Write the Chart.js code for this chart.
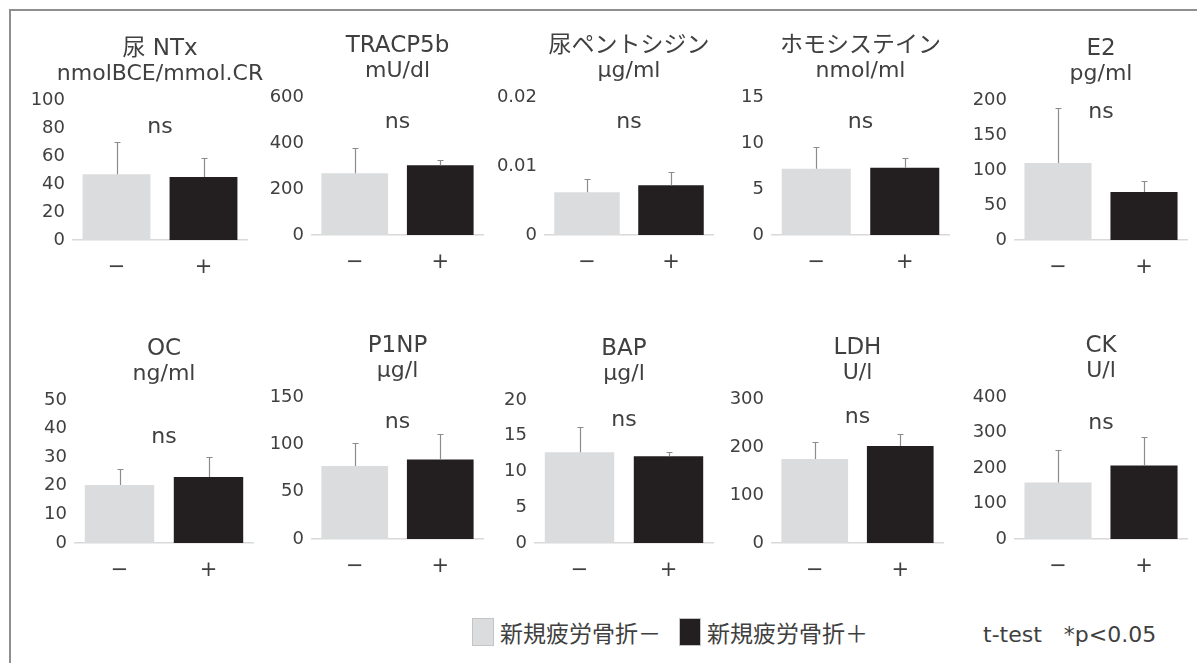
<!DOCTYPE html>
<html lang="ja">
<head>
<meta charset="utf-8">
<title>新規疲労骨折の有無による骨代謝マーカー</title>
<script src="https://cdn.jsdelivr.net/npm/chart.js@4.4.1/dist/chart.umd.min.js"></script>
<style>
  html, body { margin: 0; padding: 0; background: #fff; }
  body { width: 1197px; height: 663px; position: relative; overflow: hidden;
         font-family: 'DejaVu Sans', 'Noto Sans CJK JP', sans-serif; color: #404040; }
  #frame { position: absolute; left: 9px; top: 9px; width: 1300px; height: 800px;
           border-top: 2px solid #8f8f8f; border-left: 2px solid #8f8f8f; }
  canvas { position: absolute; }
  #legend { position: absolute; left: 472px; top: 617px; height: 30px;
            display: flex; align-items: center; white-space: nowrap; }
  #legend .item { display: flex; align-items: center; margin-right: 18px; }
  #legend .box { width: 22px; height: 28px; box-sizing: border-box; border: 1px solid #c4c4c4; margin-right: 6px; }
  #legend .label { font-family: 'Noto Sans CJK JP', sans-serif; font-size: 23px; font-weight: 400; }
  #note { position: absolute; left: 983px; top: 617px; height: 30px; display: flex; align-items: center;
          font-size: 22px; font-weight: 400; white-space: pre; }
</style>
</head>
<body>
<div id="frame"></div>
<div id="legend"></div>
<div id="note"></div>
<script>
// ---- data ----
const groups = ['新規疲労骨折－', '新規疲労骨折＋'];
const categories = ['−', '+'];
const markers = ['尿 NTx', 'TRACP5b', '尿ペントシジン', 'ホモシステイン', 'E2',
                 'OC', 'P1NP', 'BAP', 'LDH', 'CK'];
const units = ['nmolBCE/mmol.CR', 'mU/dl', 'μg/ml', 'nmol/ml', 'pg/ml',
               'ng/ml', 'μg/l', 'μg/l', 'U/l', 'U/l'];
const axisMax  = [100, 600, 0.02, 15, 200, 50, 150, 20, 300, 400];
const axisStep = [20, 200, 0.01, 5, 50, 10, 50, 5, 100, 100];
const meanMinus = [47, 269, 0.0062, 7.2, 110, 20.3, 77, 12.7, 175, 159];
const sdMinus   = [22.8, 111, 0.0019, 2.4, 79, 5.6, 24, 3.5, 35, 91];
const meanPlus  = [45, 303, 0.0072, 7.3, 68.6, 23.1, 84, 12.15, 202, 207];
const sdPlus    = [13.3, 25, 0.0020, 1.1, 16.2, 6.9, 26.8, 0.6, 25, 79];
const significance = ['ns', 'ns', 'ns', 'ns', 'ns', 'ns', 'ns', 'ns', 'ns', 'ns'];
const testNote = 't-test\u3000*p<0.05';

// ---- styling / layout ----
const groupColors = ['#dbdcde', '#231f20'];
const textColor = '#404040';
const fontFamily = "'DejaVu Sans', 'Noto Sans CJK JP', sans-serif";
// plot area of each panel: [left, top, right, bottom]
const plotBoxes = [
  [73, 100, 247, 240], [312, 97, 483, 235], [545, 97, 713, 235], [772, 97, 949, 235], [1015, 100, 1187, 240],
  [75, 400, 253, 543], [312, 397, 483, 539], [535, 400, 713, 543], [772, 399, 943, 543], [1015, 397, 1187, 539]
];
const labelOffset = [27, 25, 25, 25, 12, 37, 25, 20, 18, 26];
const Y_W = 62, TOP_PAD = 72, RIGHT_PAD = 34, X_H = 46;

Chart.defaults.font.family = fontFamily;
Chart.defaults.font.weight = 400;
Chart.defaults.color = textColor;

// upward-only error whiskers on each bar
const errorBars = {
  id: 'errorBars',
  afterDatasetsDraw(chart, args, opts) {
    const { ctx } = chart;
    const y = chart.scales.y;
    const meta = chart.getDatasetMeta(0);
    const values = chart.data.datasets[0].data;
    ctx.save();
    ctx.strokeStyle = opts.color;
    ctx.lineWidth = opts.width;
    meta.data.forEach((bar, k) => {
      const x = Math.round(bar.x) + 0.5;
      const y0 = y.getPixelForValue(values[k]);
      const y1 = Math.round(y.getPixelForValue(values[k] + opts.errors[k])) + 0.5;
      ctx.beginPath();
      ctx.moveTo(x, y0);
      ctx.lineTo(x, y1);
      ctx.moveTo(x - opts.cap, y1);
      ctx.lineTo(x + opts.cap, y1);
      ctx.stroke();
    });
    ctx.restore();
  }
};

// two-line heading above the plot and the significance mark inside it
const panelText = {
  id: 'panelText',
  afterDraw(chart, args, opts) {
    const { ctx, chartArea } = chart;
    const cx = (chartArea.left + chartArea.right) / 2;
    ctx.save();
    ctx.fillStyle = textColor;
    ctx.textAlign = 'center';
    ctx.textBaseline = 'middle';
    ctx.font = `400 23px ${fontFamily}`;
    ctx.fillText(opts.name, cx, chartArea.top - 51);
    ctx.font = `400 22px ${fontFamily}`;
    ctx.fillText(opts.unit, cx, chartArea.top - 26);
    ctx.fillText(opts.mark, cx, chartArea.top + opts.markOffset);
    ctx.restore();
  }
};

markers.forEach((name, i) => {
  const [L, T, R, B] = plotBoxes[i];
  const canvas = document.createElement('canvas');
  const w = (R - L) + Y_W + RIGHT_PAD;
  const h = TOP_PAD + (B - T) + X_H;
  canvas.width = w; canvas.height = h;
  canvas.style.left = (L - Y_W) + 'px';
  canvas.style.top = (T - TOP_PAD) + 'px';
  canvas.style.width = w + 'px';
  canvas.style.height = h + 'px';
  document.body.appendChild(canvas);

  new Chart(canvas, {
    type: 'bar',
    data: {
      labels: categories,
      datasets: [{
        label: name,
        data: [meanMinus[i], meanPlus[i]],
        backgroundColor: groupColors,
        borderWidth: 0,
        categoryPercentage: 1,
        barPercentage: 0.78
      }]
    },
    options: {
      responsive: false,
      animation: false,
      devicePixelRatio: 1,
      layout: { padding: { top: TOP_PAD, right: RIGHT_PAD, left: 0, bottom: 0 } },
      plugins: {
        legend: { display: false },
        tooltip: { enabled: false },
        errorBars: { errors: [sdMinus[i], sdPlus[i]], color: '#8c8c8c', width: 1.2, cap: 3 },
        panelText: { name, unit: units[i], mark: significance[i], markOffset: labelOffset[i] }
      },
      scales: {
        x: {
          grid: { display: false, drawTicks: false },
          border: { display: true, color: '#d9d9d9', width: 1.5 },
          ticks: { font: { size: 21, weight: 400 }, color: textColor, padding: 15 },
          afterFit(scale) { scale.height = X_H; }
        },
        y: {
          min: 0, max: axisMax[i],
          grid: { display: false, drawTicks: false },
          border: { display: false },
          ticks: { stepSize: axisStep[i], font: { size: 18, weight: 400 }, color: textColor, padding: 8 },
          afterFit(scale) { scale.width = Y_W; }
        }
      }
    },
    plugins: [errorBars, panelText]
  });
});

// shared legend for both groups
const legend = document.getElementById('legend');
groups.forEach((g, k) => {
  const item = document.createElement('div');
  item.className = 'item';
  const box = document.createElement('div');
  box.className = 'box';
  box.style.background = groupColors[k];
  const label = document.createElement('span');
  label.className = 'label';
  label.textContent = g;
  item.appendChild(box);
  item.appendChild(label);
  legend.appendChild(item);
});
document.getElementById('note').textContent = testNote;
</script>
</body>
</html>
